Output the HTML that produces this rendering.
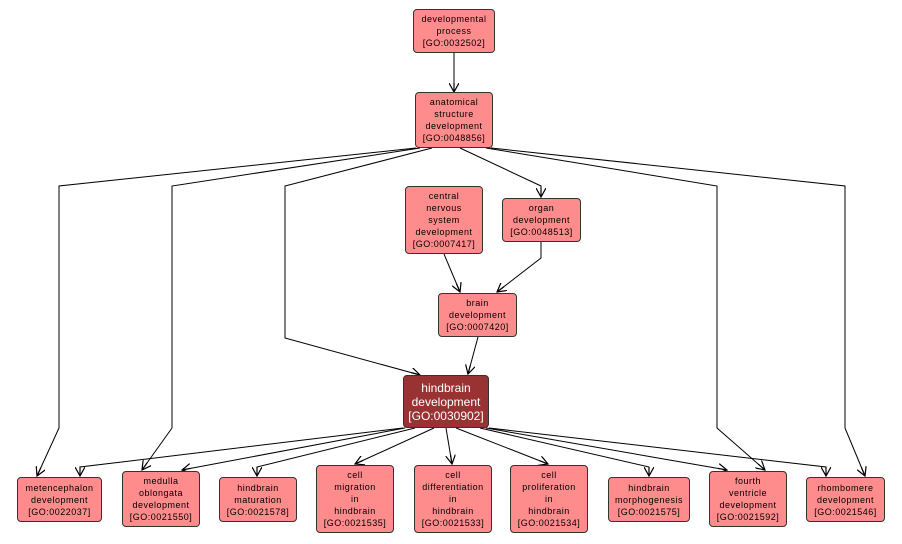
<!DOCTYPE html>
<html><head><meta charset="utf-8"><style>
body{margin:0;background:#fff;width:902px;height:544px;overflow:hidden;position:relative;font-family:"Liberation Sans",sans-serif}
.n{position:absolute;box-sizing:border-box;background:#ff8c8c;border:1px solid #333;border-radius:4px;display:flex;align-items:center;justify-content:center;text-align:center;font-size:9px;line-height:12px;letter-spacing:0.5px;color:#000}
.d{background:#993333;color:#fff;font-size:12px;line-height:14px;letter-spacing:0}
svg{position:absolute;left:0;top:0}
</style></head><body>
<svg width="902" height="544">
<defs><marker id="a" markerWidth="10" markerHeight="10" refX="9" refY="5" orient="auto" markerUnits="userSpaceOnUse"><path d="M0,0 L9,5 L0,10 M9,5 L0,5" fill="none" stroke="#000" stroke-width="1.2"/></marker></defs>
<g fill="none" stroke="#000" stroke-width="1" marker-end="url(#a)">
<polyline points="454,53 454,92"/>
<polyline points="416,148 59,186 59,428 37,476"/>
<polyline points="420,148 172,186 172,428 142,470"/>
<polyline points="432,148 285,186 285,338 420,375"/>
<polyline points="460,148 541,186 541,197"/>
<polyline points="486,148 717,186 717,428 765,470"/>
<polyline points="491,148 845,186 845,428 865,476"/>
<polyline points="444,254 460,292"/>
<polyline points="541,242 541,258 497,292"/>
<polyline points="478,337 468,374"/>
<polyline points="403,428 80,467 80,476"/>
<polyline points="405,428 182,470"/>
<polyline points="415,428 257,467 257,476"/>
<polyline points="434,428 355,464"/>
<polyline points="446,428 452,464"/>
<polyline points="456,428 548,464"/>
<polyline points="480,428 649,467 649,476"/>
<polyline points="486,428 727,470"/>
<polyline points="489,428 826,467 826,476"/>
</g></svg>
<div class="n" style="left:413px;top:9px;width:82px;height:44px">developmental<br>process<br>[GO:0032502]</div>
<div class="n" style="left:415px;top:92px;width:78px;height:56px">anatomical<br>structure<br>development<br>[GO:0048856]</div>
<div class="n" style="left:405px;top:186px;width:78px;height:68px">central<br>nervous<br>system<br>development<br>[GO:0007417]</div>
<div class="n" style="left:502px;top:198px;width:79px;height:44px">organ<br>development<br>[GO:0048513]</div>
<div class="n" style="left:438px;top:293px;width:79px;height:44px">brain<br>development<br>[GO:0007420]</div>
<div class="n d" style="left:403px;top:375px;width:86px;height:53px">hindbrain<br>development<br>[GO:0030902]</div>
<div class="n" style="left:17px;top:477px;width:85px;height:45px">metencephalon<br>development<br>[GO:0022037]</div>
<div class="n" style="left:122px;top:471px;width:78px;height:56px">medulla<br>oblongata<br>development<br>[GO:0021550]</div>
<div class="n" style="left:219px;top:477px;width:78px;height:45px">hindbrain<br>maturation<br>[GO:0021578]</div>
<div class="n" style="left:316px;top:465px;width:78px;height:68px">cell<br>migration<br>in<br>hindbrain<br>[GO:0021535]</div>
<div class="n" style="left:414px;top:465px;width:78px;height:68px">cell<br>differentiation<br>in<br>hindbrain<br>[GO:0021533]</div>
<div class="n" style="left:510px;top:465px;width:78px;height:68px">cell<br>proliferation<br>in<br>hindbrain<br>[GO:0021534]</div>
<div class="n" style="left:608px;top:477px;width:82px;height:45px">hindbrain<br>morphogenesis<br>[GO:0021575]</div>
<div class="n" style="left:709px;top:471px;width:78px;height:56px">fourth<br>ventricle<br>development<br>[GO:0021592]</div>
<div class="n" style="left:806px;top:477px;width:79px;height:45px">rhombomere<br>development<br>[GO:0021546]</div>
</body></html>
